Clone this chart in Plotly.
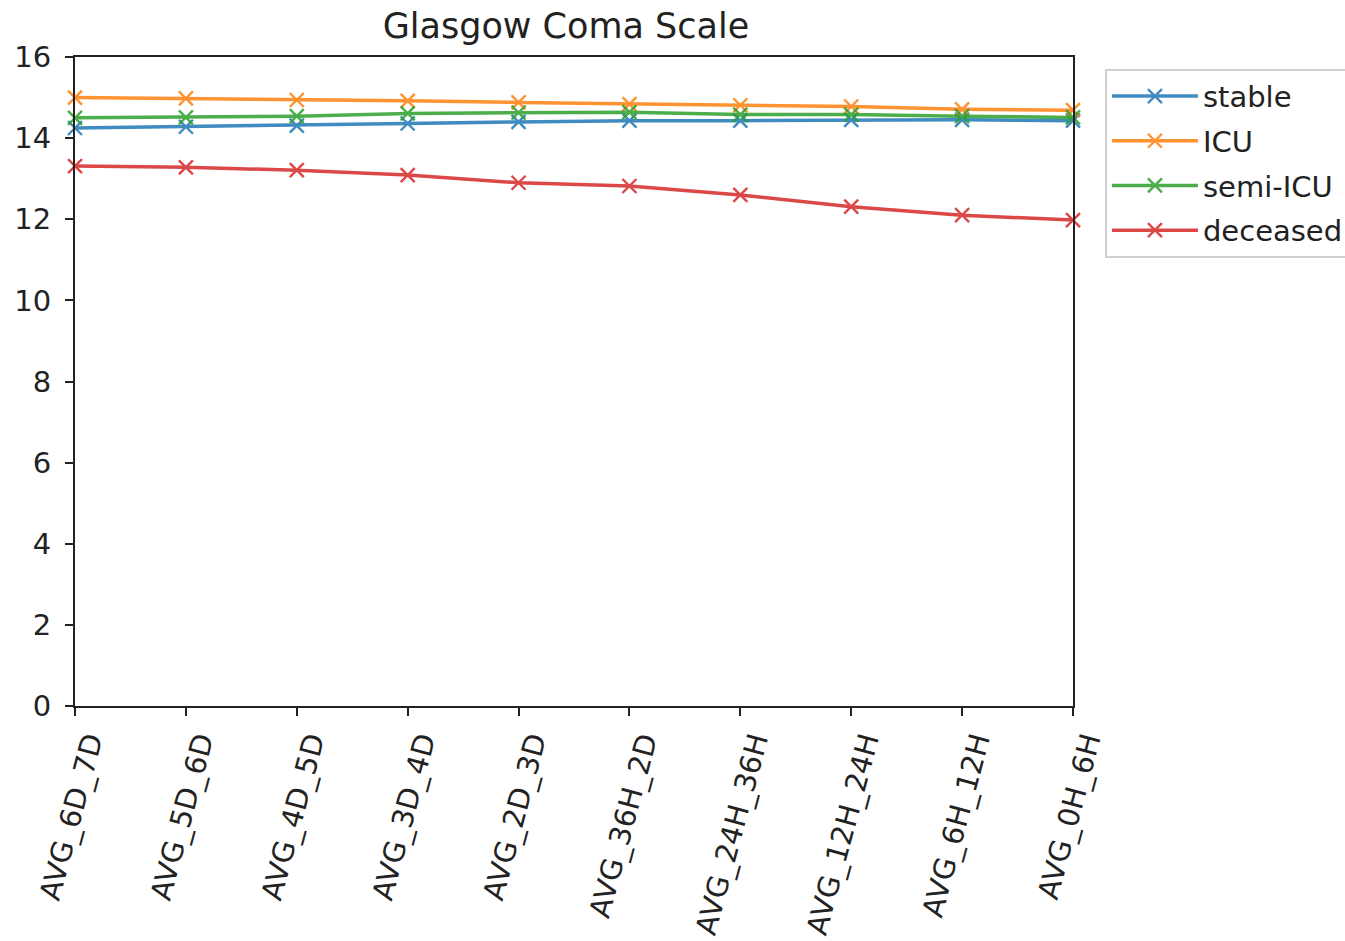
import plotly.graph_objects as go

# Time windows before outcome (oldest to most recent)
windows = ["AVG_6D_7D", "AVG_5D_6D", "AVG_4D_5D", "AVG_3D_4D", "AVG_2D_3D",
           "AVG_36H_2D", "AVG_24H_36H", "AVG_12H_24H", "AVG_6H_12H", "AVG_0H_6H"]

# Mean Glasgow Coma Scale per outcome group
stable = [14.25, 14.28, 14.31, 14.36, 14.40, 14.43, 14.43, 14.45, 14.45, 14.43]
icu = [15.00, 14.98, 14.94, 14.92, 14.88, 14.84, 14.81, 14.78, 14.71, 14.69]
semi_icu = [14.50, 14.51, 14.54, 14.61, 14.63, 14.64, 14.58, 14.58, 14.54, 14.51]
deceased = [13.31, 13.28, 13.21, 13.09, 12.90, 12.82, 12.60, 12.31, 12.10, 11.98]

series = [
    ("stable", stable, "#1f77b4"),
    ("ICU", icu, "#ff7f0e"),
    ("semi-ICU", semi_icu, "#2ca02c"),
    ("deceased", deceased, "#d62728"),
]

FONT = "DejaVu Sans"
TXT = "#222"

fig = go.Figure()
for name, vals, color in series:
    fig.add_trace(go.Scatter(
        x=windows, y=vals, name=name, legendgroup=name, mode="lines+markers",
        line=dict(color=color, width=3.5),
        marker=dict(symbol="x-thin", size=14, line=dict(color=color, width=2.4)),
        opacity=0.85,
        cliponaxis=False,
    ))

fig.update_layout(
    width=1345, height=941,
    margin=dict(l=75, r=272, t=57, b=235, autoexpand=False),
    paper_bgcolor="white", plot_bgcolor="white",
    font=dict(family=FONT, size=29, color=TXT),
    title=dict(text="Glasgow Coma Scale", x=566 / 1345, xanchor="center",
               y=1 - 26 / 941, yanchor="middle", yref="container",
               font=dict(family=FONT, size=35, color=TXT)),
    showlegend=True,
    legend=dict(x=1.032, y=0.982, xanchor="left", yanchor="top",
                bordercolor="#d0d0d0", borderwidth=2, bgcolor="white",
                font=dict(family=FONT, size=29, color=TXT),
                tracegroupgap=4, itemwidth=86),
)

axis_style = dict(
    showline=True, linecolor="#222", linewidth=2, mirror=True,
    ticks="outside", ticklen=8, tickwidth=2, tickcolor="#222",
    showgrid=False, zeroline=False, automargin=False,
    tickfont=dict(family=FONT, size=29, color=TXT),
)

fig.update_xaxes(type="category", range=[0, 9], tickangle=-75,
                 ticklabelshift=14, ticklabelstandoff=-3, **axis_style)
fig.update_yaxes(range=[0, 16], dtick=2, tick0=0, ticklabelstandoff=8, **axis_style)

fig.write_html("out.html")
